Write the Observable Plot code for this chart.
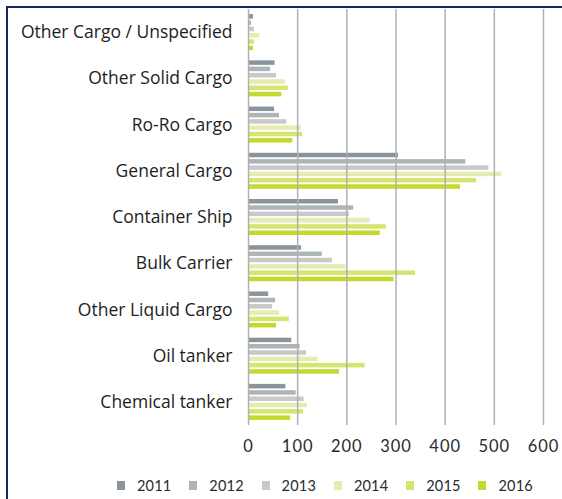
<!DOCTYPE html>
<html>
<head>
<meta charset="utf-8">
<script src="https://cdn.jsdelivr.net/npm/d3@7"></script>
<script src="https://cdn.jsdelivr.net/npm/@observablehq/plot@0.6"></script>
<style>
  html, body { margin: 0; padding: 0; background: #fff; width: 562px; height: 499px; overflow: hidden; }
  #frame { position: absolute; left: 6px; top: 6px; width: 556px; height: 493px;
           border-top: 2px solid #14285f; border-left: 2px solid #14285f; box-sizing: border-box; }
  #chart { position: absolute; left: 0; top: 0; }
  #chart g[aria-label^="y-axis"] text { font-family: "Open Sans", sans-serif; font-size: 17.5px; fill: #1e1e1e; }
  #chart g[aria-label^="x-axis"] text { font-family: Lato, sans-serif; font-size: 16.5px; letter-spacing: 1px; fill: #2a2a2a; }
  #legend { position: absolute; left: 117px; top: 477px; display: flex; font-family: Lato, sans-serif;
            font-size: 14.5px; letter-spacing: 0.2px; color: #2a2a2a; }
  #legend .item { display: flex; align-items: center; width: 72.3px; }
  #legend .sw { width: 8px; height: 9px; margin-right: 12px; }
</style>
</head>
<body>
<div id="frame"></div>
<div id="chart"></div>
<div id="legend"></div>
<script>
const categories = ["Other Cargo / Unspecified", "Other Solid Cargo", "Ro-Ro Cargo", "General Cargo",
  "Container Ship", "Bulk Carrier", "Other Liquid Cargo", "Oil tanker", "Chemical tanker"];
const years = ["2011", "2012", "2013", "2014", "2015", "2016"];
const v2011 = [10, 54, 53, 305, 183, 108, 41, 88, 76];
const v2012 = [6, 45, 63, 442, 214, 150, 55, 105, 97];
const v2013 = [12, 57, 78, 489, 205, 171, 49, 118, 113];
const v2014 = [23, 75, 107, 516, 247, 198, 63, 142, 120];
const v2015 = [12, 81, 110, 464, 280, 340, 83, 237, 112];
const v2016 = [10, 68, 90, 431, 268, 296, 57, 185, 86];
const xTicks = [0, 100, 200, 300, 400, 500, 600];
const colors = ["#8b949a", "#aeb5b9", "#c9c9c9", "#e4ecb2", "#d6e56f", "#c4d82e"];

const series = [v2011, v2012, v2013, v2014, v2015, v2016];
const rows = [];
years.forEach((yr, i) => categories.forEach((c, j) => rows.push({category: c, year: yr, value: series[i][j]})));

const step = 6.3, thick = 4.5;
const band = 416 / categories.length;
const inset = (band - thick) / 2;

const chart = Plot.plot({
  width: 562,
  height: 460,
  marginLeft: 248,
  marginRight: 19,
  marginTop: 9,
  marginBottom: 35,
  x: {domain: [0, 600], ticks: xTicks, tickSize: 0, tickPadding: 15, label: null, tickFormat: d => String(d)},
  y: {domain: categories, padding: 0, round: false, tickSize: 0, tickPadding: 16, label: null},
  marks: [
    ...years.map((yr, i) => Plot.barX(rows.filter(d => d.year === yr), {
      x: "value", y: "category", fill: colors[i], dy: (i - 2.5) * step, insetTop: inset, insetBottom: inset
    })),
    Plot.ruleX(xTicks, {stroke: "#b0b0b0", strokeWidth: 1.5})
  ]
});
document.getElementById("chart").appendChild(chart);

const legend = document.getElementById("legend");
years.forEach((yr, i) => {
  const it = document.createElement("div");
  it.className = "item";
  const sw = document.createElement("div");
  sw.className = "sw";
  sw.style.background = colors[i];
  const t = document.createElement("span");
  t.textContent = yr;
  it.appendChild(sw); it.appendChild(t);
  legend.appendChild(it);
});
</script>
</body>
</html>
